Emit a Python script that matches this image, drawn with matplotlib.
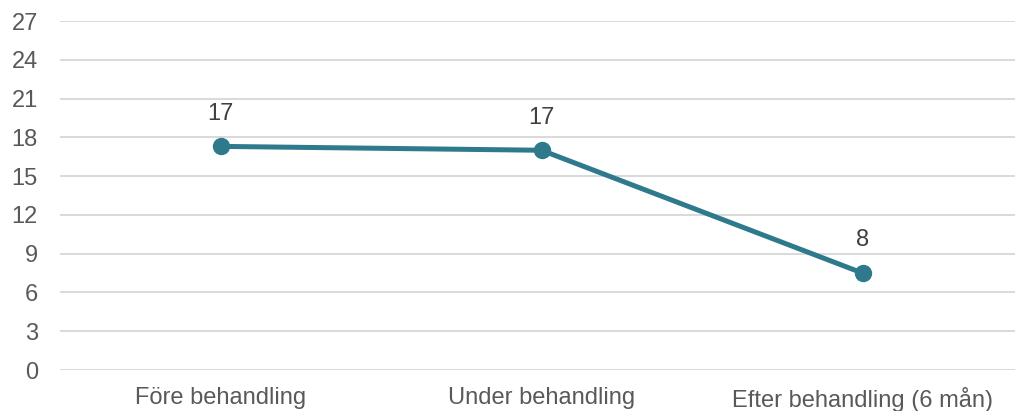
import matplotlib
matplotlib.use("Agg")
import matplotlib.pyplot as plt

categories = ["Före behandling", "Under behandling", "Efter behandling (6 mån)"]
values = [17.3, 17.0, 7.5]
yticks = [0, 3, 6, 9, 12, 15, 18, 21, 24, 27]

plt.rcParams["font.family"] = ["Liberation Sans", "DejaVu Sans"]

fig = plt.figure(figsize=(10.15, 4.11), dpi=100)
ax = fig.add_axes([60 / 1015, 1 - 370 / 411, 963 / 1015, 349 / 411])

line_color = "#2E7A8C"
x = list(range(len(categories)))
ax.plot(x, values, color=line_color, linewidth=3.6, marker="o", markersize=11.5,
        solid_capstyle="round", zorder=3)

for xi, v in zip(x, values):
    ax.annotate(f"{v:.0f}", (xi, v), xytext=(0, 23.5), textcoords="offset points",
                ha="center", va="center", fontsize=17, color="#404040")

ax.set_xlim(-0.5, 2.5)
ax.set_ylim(0, 27)
ax.set_yticks(yticks)
ax.set_xticks(x)
ax.set_xticklabels(categories)
ax.grid(axis="y", color="#D9D9D9", linewidth=1.4)
ax.set_axisbelow(True)
for s in ax.spines.values():
    s.set_visible(False)
ax.tick_params(axis="both", length=0, labelsize=17, labelcolor="#595959")
ax.tick_params(axis="y", pad=16)
ax.tick_params(axis="x", pad=12)

fig.savefig("out.png", dpi=100)
